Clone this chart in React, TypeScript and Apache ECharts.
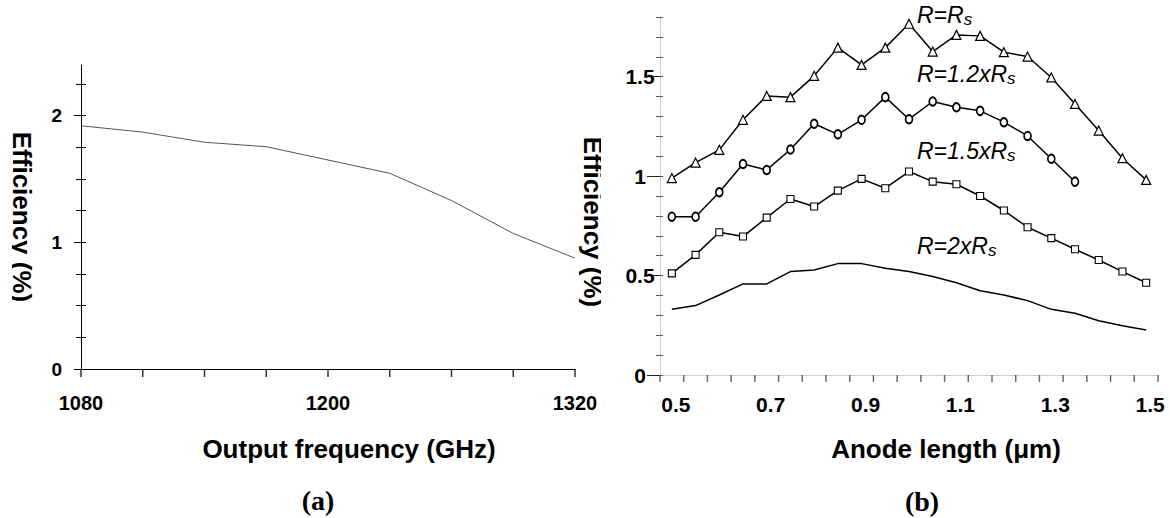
import React, { useEffect, useRef } from "react";
import * as echarts from "echarts";

// ---------- Panel (a) data ----------
const freqA = [1080, 1110, 1140, 1170, 1200, 1230, 1260, 1290, 1320];
const effA = [1.92, 1.87, 1.79, 1.755, 1.65, 1.545, 1.33, 1.07, 0.875];
const xTicksA = [1080, 1110, 1140, 1170, 1200, 1230, 1260, 1290, 1320];
const xLabelsA = [1080, 1200, 1320];

// ---------- Panel (b) data ----------
const anodeLen = [
  "0.5", "0.55", "0.6", "0.65", "0.7", "0.75", "0.8", "0.85", "0.9", "0.95",
  "1", "1.05", "1.1", "1.15", "1.2", "1.25", "1.3", "1.35", "1.4", "1.45", "1.5",
];
// tick marks sit between the sampled anode lengths
const xTicksB = [
  0.475, 0.525, 0.575, 0.625, 0.675, 0.725, 0.775, 0.825, 0.875, 0.925, 0.975,
  1.025, 1.075, 1.125, 1.175, 1.225, 1.275, 1.325, 1.375, 1.425, 1.475, 1.525,
];
const xLabelsB = ["0.5", "0.7", "0.9", "1.1", "1.3", "1.5"];
const effRs = [0.99, 1.068, 1.132, 1.283, 1.403, 1.397, 1.504, 1.646, 1.559, 1.646, 1.766, 1.626, 1.71, 1.705, 1.623, 1.601, 1.496, 1.363, 1.229, 1.09, 0.981];
const eff12Rs = [0.796, 0.796, 0.919, 1.061, 1.031, 1.134, 1.263, 1.21, 1.283, 1.397, 1.286, 1.375, 1.346, 1.328, 1.271, 1.202, 1.087, 0.972];
const eff15Rs = [0.511, 0.604, 0.718, 0.696, 0.791, 0.885, 0.847, 0.927, 0.986, 0.939, 1.023, 0.972, 0.959, 0.9, 0.827, 0.743, 0.688, 0.632, 0.578, 0.52, 0.464];
const eff2Rs = [0.33, 0.349, 0.402, 0.458, 0.458, 0.52, 0.528, 0.56, 0.56, 0.537, 0.52, 0.495, 0.464, 0.424, 0.402, 0.374, 0.33, 0.31, 0.273, 0.248, 0.226];
const curveLabels = [
  { main: "R=R", y: 15 },
  { main: "R=1.2xR", y: 74 },
  { main: "R=1.5xR", y: 151 },
  { main: "R=2xR", y: 246 },
];

const SANS = "'Liberation Sans', Arial, Helvetica, sans-serif";
const SERIF = "'Liberation Serif', 'Times New Roman', serif";

// pixel layout of the two panels
const A = { left: 81, bottom: 369, width: 494, unit: 126.67 };
const B = { left: 660, bottom: 375, width: 498, unit: 198.9 };

export default function App() {
  const ref = useRef<HTMLDivElement>(null);

  useEffect(() => {
    if (!ref.current) return;
    const chart = echarts.init(ref.current, undefined, { renderer: "svg" });

    const tickLabel = { color: "#000", fontFamily: SANS, fontWeight: "bold" as const, fontSize: 20 };
    const gridFor = (P: typeof A, maxV: number) => ({
      left: P.left,
      top: P.bottom - maxV * P.unit,
      width: P.width,
      height: maxV * P.unit,
    });
    const hiddenX = (g: number) => ({ type: "value", gridIndex: g, show: false, min: 0, max: 1 });
    const tickOnlyY = (g: number, maxV: number, interval: number, len: number, inside: boolean, color: string) => ({
      type: "value",
      gridIndex: g,
      position: "left",
      min: 0,
      max: maxV,
      interval,
      axisLine: { show: false },
      axisTick: { show: true, inside, length: len, lineStyle: { color, width: 1 } },
      axisLabel: { show: false },
      splitLine: { show: false },
    });

    const option: any = {
      animation: false,
      backgroundColor: "#fff",
      grid: [
        gridFor(A, 2.4), // 0 panel a main
        gridFor(B, 1.8), // 1 panel b main
        gridFor(A, 2.25), // 2 panel a minor ticks
        gridFor(A, 2), // 3 panel a major ticks + labels
        gridFor(B, 1.5), // 4 panel b major ticks + labels
      ],
      xAxis: [
        {
          type: "value",
          gridIndex: 0,
          position: "bottom",
          min: 1080,
          max: 1320,
          interval: 30,
          axisLine: { show: true, onZero: false, lineStyle: { color: "#000", width: 1 } },
          axisTick: { show: false },
          axisLabel: {
            ...tickLabel,
            margin: 24,
            showMinLabel: true,
            showMaxLabel: true,
            formatter: (v: number) => (xLabelsA.indexOf(Math.round(v)) >= 0 ? String(Math.round(v)) : ""),
          },
          splitLine: { show: false },
        },
        {
          type: "category",
          gridIndex: 1,
          position: "bottom",
          data: anodeLen,
          boundaryGap: true,
          axisLine: { show: true, onZero: false, lineStyle: { color: "#cfcfcf", width: 1 } },
          axisTick: { show: false },
          axisLabel: {
            ...tickLabel,
            fontSize: 21,
            margin: 19,
            interval: 0,
            padding: [0, 0, 0, 8],
            formatter: (v: string) => (xLabelsB.indexOf(v) >= 0 ? v : ""),
          },
          splitLine: { show: false },
        },
        hiddenX(2),
        hiddenX(3),
        hiddenX(4),
        { type: "value", gridIndex: 1, show: false, min: 0.475, max: 1.525 }, // 5: tick positions of panel b
      ],
      yAxis: [
        {
          type: "value",
          gridIndex: 0,
          position: "left",
          min: 0,
          max: 2.4,
          axisLine: { show: true, lineStyle: { color: "#000", width: 1 } },
          axisTick: { show: false },
          axisLabel: { show: false },
          splitLine: { show: false },
        },
        tickOnlyY(2, 2.25, 0.25, 5, false, "#000"),
        tickOnlyY(2, 2.25, 0.25, 5, true, "#000"),
        {
          ...tickOnlyY(3, 2, 1, 7, false, "#000"),
          axisLabel: { ...tickLabel, fontSize: 19, margin: 19 },
        },
        {
          type: "value",
          gridIndex: 1,
          position: "left",
          min: 0,
          max: 1.8,
          interval: 0.1,
          axisLine: { show: true, lineStyle: { color: "#cfcfcf", width: 1 } },
          axisTick: { show: true, length: 4, lineStyle: { color: "#555" } },
          axisLabel: { show: false },
          splitLine: { show: false },
        },
        tickOnlyY(1, 1.8, 0.1, 3, true, "#555"),
        {
          ...tickOnlyY(4, 1.5, 0.5, 13, false, "#222"),
          axisLabel: { ...tickLabel, fontSize: 21, align: "center", margin: 20 },
        },
      ],
      series: [
        {
          type: "line",
          xAxisIndex: 0,
          yAxisIndex: 0,
          data: freqA.map((f, i) => [f, effA[i]]),
          showSymbol: false,
          symbol: "none",
          lineStyle: { color: "#555", width: 1 },
        },
        {
          // x-axis tick marks of panel (a)
          type: "scatter",
          xAxisIndex: 0,
          yAxisIndex: 0,
          data: xTicksA.map((v) => [v, 0]),
          symbol: "rect",
          symbolSize: [1.5, 8],
          symbolOffset: [0, 4],
          itemStyle: { color: "#000" },
          silent: true,
          clip: false,
          z: 1,
        },
        {
          // x-axis tick marks of panel (b)
          type: "scatter",
          xAxisIndex: 5,
          yAxisIndex: 4,
          data: xTicksB.map((v) => [v, 0]),
          symbol: "rect",
          symbolSize: [1.5, 7],
          symbolOffset: [0, 3.5],
          itemStyle: { color: "#444" },
          silent: true,
          clip: false,
          z: 1,
        },
        {
          type: "line",
          xAxisIndex: 1,
          yAxisIndex: 4,
          data: effRs,
          symbol: "triangle",
          symbolSize: [9, 9],
          itemStyle: { color: "#fff", borderColor: "#000", borderWidth: 1.2 },
          lineStyle: { color: "#000", width: 1.5 },
        },
        {
          type: "line",
          xAxisIndex: 1,
          yAxisIndex: 4,
          data: eff12Rs,
          symbol: "circle",
          symbolSize: [7, 8.5],
          itemStyle: { color: "#fff", borderColor: "#000", borderWidth: 1.8 },
          lineStyle: { color: "#000", width: 1.5 },
        },
        {
          type: "line",
          xAxisIndex: 1,
          yAxisIndex: 4,
          data: eff15Rs,
          symbol: "rect",
          symbolSize: [7, 7],
          itemStyle: { color: "#fff", borderColor: "#000", borderWidth: 1.1 },
          lineStyle: { color: "#000", width: 1.5 },
        },
        {
          type: "line",
          xAxisIndex: 1,
          yAxisIndex: 4,
          data: eff2Rs,
          symbol: "none",
          showSymbol: false,
          lineStyle: { color: "#000", width: 1.5 },
        },
      ],
      graphic: [
        {
          type: "text",
          x: 349,
          y: 449,
          z: 5,
          style: { text: "Output frequency (GHz)", fontFamily: SANS, fontWeight: "bold", fontSize: 26, fill: "#000", align: "center", verticalAlign: "middle" },
        },
        {
          type: "text",
          x: 946,
          y: 449,
          z: 5,
          style: { text: "Anode length (\u03bcm)", fontFamily: SANS, fontWeight: "bold", fontSize: 26, fill: "#000", align: "center", verticalAlign: "middle" },
        },
        {
          type: "text",
          x: 21.5,
          y: 217,
          rotation: -Math.PI / 2,
          z: 5,
          style: { text: "Efficiency (%)", fontFamily: SANS, fontWeight: "bold", fontSize: 26, fill: "#000", align: "center", verticalAlign: "middle" },
        },
        {
          type: "text",
          x: 593,
          y: 222,
          rotation: -Math.PI / 2,
          z: 5,
          style: { text: "Efficiency (%)", fontFamily: SANS, fontWeight: "bold", fontSize: 26, fill: "#000", align: "center", verticalAlign: "middle" },
        },
        { type: "rect", z: 10, shape: { x: 0, y: 100, width: 12, height: 240 }, style: { fill: "#fff" } },
        { type: "rect", z: 10, shape: { x: 601, y: 100, width: 19, height: 240 }, style: { fill: "#fff" } },
        {
          type: "text",
          x: 318,
          y: 500,
          z: 5,
          style: { text: "(a)", fontFamily: SERIF, fontWeight: "bold", fontSize: 28, fill: "#000", align: "center", verticalAlign: "middle" },
        },
        {
          type: "text",
          x: 922,
          y: 501,
          z: 5,
          style: { text: "(b)", fontFamily: SERIF, fontWeight: "bold", fontSize: 28, fill: "#000", align: "center", verticalAlign: "middle" },
        },
        ...curveLabels.map((c) => ({
          type: "text",
          x: 917,
          y: c.y,
          z: 5,
          style: {
            text: `{a|${c.main}}{b|s}`,
            align: "left",
            verticalAlign: "middle",
            rich: {
              a: { fontFamily: SANS, fontStyle: "italic", fontSize: 23, lineHeight: 26, fill: "#000", color: "#000" },
              b: { fontFamily: SANS, fontStyle: "italic", fontSize: 17, lineHeight: 18, verticalAlign: "bottom", fill: "#000", color: "#000" },
            },
          },
        })),
      ],
    };

    chart.setOption(option);
    return () => chart.dispose();
  }, []);

  return (
    <div
      ref={ref}
      style={{ position: "absolute", left: 0, top: 0, width: 1170, height: 518, background: "#fff" }}
    />
  );
}
